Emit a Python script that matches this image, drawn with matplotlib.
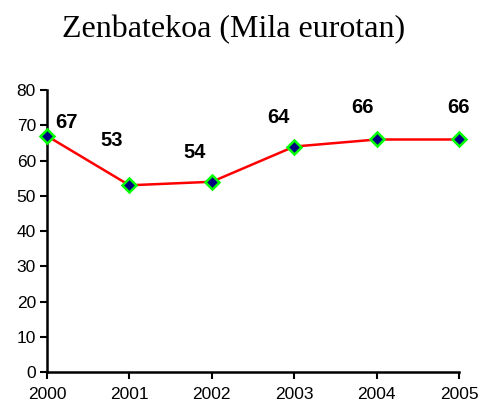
import matplotlib
matplotlib.use("Agg")
import matplotlib.pyplot as plt

years = [2000, 2001, 2002, 2003, 2004, 2005]
values = [67, 53, 54, 64, 66, 66]
yticks = [0, 10, 20, 30, 40, 50, 60, 70, 80]
# label offsets in points (dx, dy), Excel-like placement
label_offsets = [(14.4, 10), (-13, 32.4), (-12.2, 21), (-11.5, 21), (-10, 23), (-0.7, 23)]

fig = plt.figure(figsize=(4.82, 4.09), dpi=100)
ax = fig.add_axes([0.0975, 0.0905, 0.855, 0.689])

ax.plot(years, values, color='red', lw=1.8, marker='D', markersize=7,
        markerfacecolor='#000080', markeredgecolor='#00ff00', markeredgewidth=1.8,
        clip_on=False, zorder=3)

for x, v, (dx, dy) in zip(years, values, label_offsets):
    ax.annotate(str(v), (x, v), xytext=(dx, dy), textcoords='offset points',
                ha='center', va='center', fontsize=14.5, fontweight='bold',
                family='Liberation Sans')

ax.set_xlim(2000, 2005)
ax.set_ylim(0, 80)
ax.set_xticks(years)
ax.set_yticks(yticks)
for lab in ax.get_xticklabels() + ax.get_yticklabels():
    lab.set_family('Liberation Sans')
    lab.set_fontsize(12.5)
ax.tick_params(direction='out', length=5, width=1.5, color='black')
ax.tick_params(axis='x', pad=6)
ax.tick_params(axis='y', pad=3)
for s in ['top', 'right']:
    ax.spines[s].set_visible(False)
for s in ['left', 'bottom']:
    ax.spines[s].set_linewidth(1.8)

fig.text(0.485, 0.927, 'Zenbatekoa (Mila eurotan)', ha='center', va='center',
         fontsize=23, family='Liberation Serif')

fig.savefig('out.png', dpi=100)
